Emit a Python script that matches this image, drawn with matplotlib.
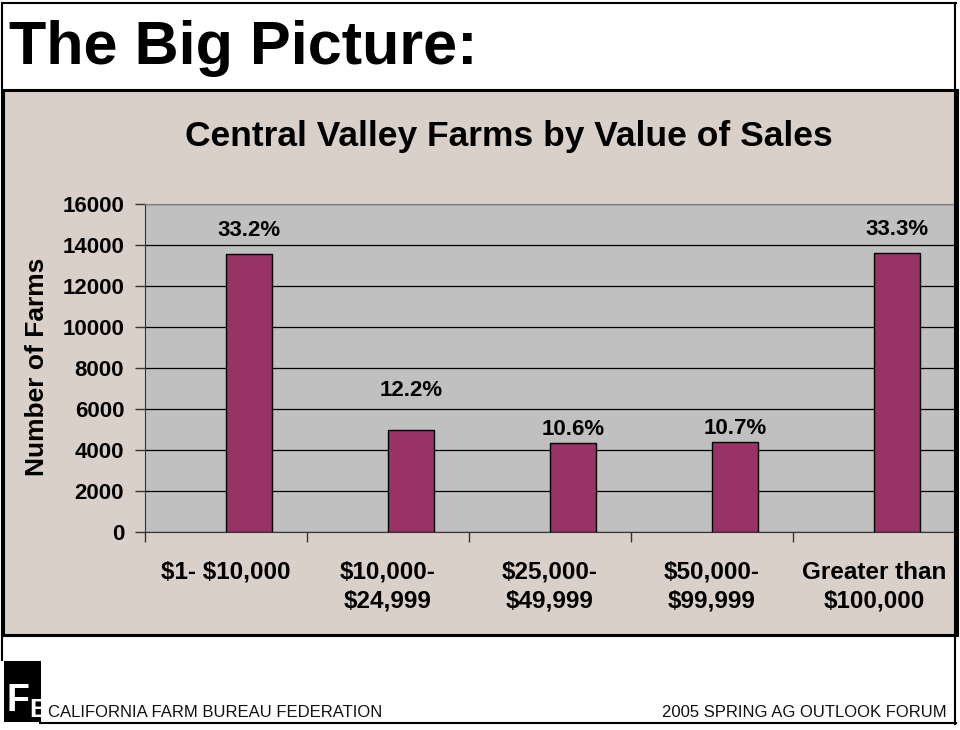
import matplotlib
matplotlib.use("Agg")
import matplotlib.pyplot as plt
from matplotlib.patches import Rectangle
from matplotlib.lines import Line2D

# ---- data ----
categories = ["$1- $10,000", "$10,000-\n$24,999", "$25,000-\n$49,999",
              "$50,000-\n$99,999", "Greater than\n$100,000"]
farms = [13550, 4950, 4330, 4360, 13600]
percent_labels = ["33.2%", "12.2%", "10.6%", "10.7%", "33.3%"]
y_ticks = [0, 2000, 4000, 6000, 8000, 10000, 12000, 14000, 16000]

# ---- style ----
label_offsets_pt = [13.5, 24.5, 5.8, 5.8, 13.0]
BAR = "#993366"
TAN = "#D8D0C9"
PLOT = "#C0C0C0"
FONT = ["Liberation Sans", "DejaVu Sans"]
plt.rcParams["font.family"] = FONT
plt.rcParams["mathtext.fontset"] = "custom"
plt.rcParams["mathtext.bf"] = "Liberation Sans:bold"

W, H = 960, 730
fig = plt.figure(figsize=(W / 100, H / 100), dpi=100)
fig.patch.set_facecolor("white")

def fx(px):
    return px / W

def fy(py):
    return 1 - py / H

# slide border
fig.add_artist(Line2D([fx(2), fx(2)], [fy(3), fy(660)], color="black", lw=1.5))
fig.add_artist(Line2D([fx(2), fx(956)], [fy(3), fy(3)], color="black", lw=1.5))
fig.add_artist(Line2D([fx(955), fx(955)], [fy(3), fy(724)], color="black", lw=1.5))
fig.add_artist(Line2D([fx(40), fx(956)], [fy(723), fy(723)], color="black", lw=1.5))

# chart area
fig.add_artist(Rectangle((fx(3), fy(635)), fx(957) - fx(3), fy(90) - fy(635),
                         facecolor=TAN, edgecolor="black", lw=2.2,
                         transform=fig.transFigure, zorder=0))

# slide title
fig.text(fx(9), fy(64), "The Big Picture:", fontsize=44, fontweight="bold",
         ha="left", va="baseline")

# chart title
fig.text(fx(509), fy(146), "Central Valley Farms by Value of Sales", fontsize=25.5,
         fontweight="bold", ha="center", va="baseline")

# axes
ax = fig.add_axes([fx(145), fy(531.7), fx(955) - fx(145), fy(204.3) - fy(531.7)])
ax.set_facecolor(PLOT)
x = list(range(len(categories)))
bw = 1 / 3.5
xb = [i + bw / 2 for i in x]
ax.bar(xb, farms, width=bw, color=BAR, edgecolor="black", lw=1.0, zorder=3)
ax.set_xlim(-0.5, len(categories) - 0.5)
ax.set_ylim(0, 16000)
ax.set_yticks(y_ticks)
ax.set_yticklabels([str(v) for v in y_ticks], fontsize=16, fontweight="bold")
ax.yaxis.grid(True, color="black", lw=0.9, zorder=1)
ax.set_axisbelow(True)
ax.tick_params(axis="y", direction="out", length=7, width=1, pad=8, color="#333333")

ax.set_xticks(x)
ax.set_xticklabels([c.replace("$", r"\$") for c in categories], fontsize=17.5,
                   fontweight="bold", linespacing=1.3)
ax.set_xticks([i - 0.5 for i in range(len(categories) + 1)], minor=True)
ax.tick_params(axis="x", which="major", length=0, pad=21)
ax.tick_params(axis="x", which="minor", direction="out", length=7, width=1, color="#333333")

ax.spines["right"].set_visible(False)
ax.spines["top"].set_color("#808080")
ax.spines["left"].set_color("#333333")
ax.spines["bottom"].set_color("#333333")

for xi, v, lab, off in zip(xb, farms, percent_labels, label_offsets_pt):
    ax.annotate(lab, (xi, v), xytext=(0, off), textcoords="offset points",
                ha="center", va="baseline", fontsize=16, fontweight="bold")

fig.text(fx(37), fy(367), "Number of Farms", rotation=90, fontsize=19,
         fontweight="bold", ha="center", va="center")

# footer logo (approximation)
fig.add_artist(Rectangle((fx(4), fy(722)), fx(41) - fx(4), fy(661) - fy(722),
                         facecolor="black", edgecolor="none", transform=fig.transFigure))
fig.text(fx(6), fy(712), r"$\mathbf{F}_{\mathbf{B}}$", color="white", fontsize=27,
         ha="left", va="baseline")

fig.text(fx(48), fy(717), "CALIFORNIA FARM BUREAU FEDERATION", fontsize=12,
         ha="left", va="baseline", color="#111111")
fig.text(fx(947), fy(717), "2005 SPRING AG OUTLOOK FORUM", fontsize=12,
         ha="right", va="baseline", color="#111111")

fig.savefig("out.png", dpi=100)
